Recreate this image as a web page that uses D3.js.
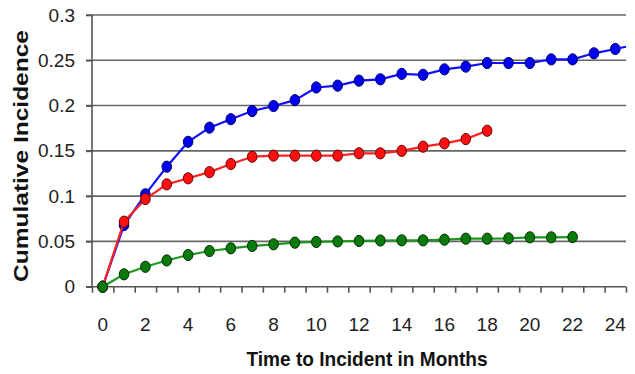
<!DOCTYPE html>
<html>
<head>
<meta charset="utf-8">
<script src="https://cdn.jsdelivr.net/npm/d3@7"></script>
<style>
  body { margin: 0; background: #fff; }
  svg { display: block; font-family: "Liberation Sans", Arial, sans-serif; }
</style>
</head>
<body>
<div id="chart"></div>
<script>
(function() {
// months 0..24
let months = d3.range(0, 25);
let xTickLabels = [0, 2, 4, 6, 8, 10, 12, 14, 16, 18, 20, 22, 24];
let yTickValues = [0, 0.05, 0.1, 0.15, 0.2, 0.25, 0.3];
let yTickLabels = ['0', '0.05', '0.1', '0.15', '0.2', '0.25', '0.3'];

let blueValues = [0, 0.068, 0.102, 0.1325, 0.160, 0.1756, 0.185, 0.194, 0.1995, 0.206, 0.220, 0.222,
  0.2275, 0.229, 0.235, 0.234, 0.240, 0.243, 0.247, 0.247, 0.247, 0.251, 0.251, 0.2577, 0.2625];
let redValues = [0, 0.0718, 0.0968, 0.113, 0.1197, 0.1265, 0.1355, 0.1435, 0.1447, 0.1447, 0.1447, 0.1447,
  0.1473, 0.1473, 0.150, 0.1546, 0.1583, 0.163, 0.1722];
let greenValues = [0, 0.0137, 0.022, 0.029, 0.035, 0.0394, 0.0424, 0.045, 0.0468, 0.0486, 0.0494, 0.050,
  0.0505, 0.051, 0.0512, 0.0512, 0.0519, 0.053, 0.053, 0.0534, 0.0545, 0.0545, 0.0548];

let width = 635, height = 374;
let plot = { left: 92, right: 626, top: 15, bottom: 286.7 };

let svg = d3.select('#chart').append('svg')
  .attr('width', width)
  .attr('height', height);

let x = d3.scaleLinear().domain([-0.5, 24.5]).range([plot.left, plot.right]);
let y = d3.scaleLinear().domain([0, 0.3]).range([plot.bottom, plot.top]);

// gridlines
svg.append('g').selectAll('line')
  .data(yTickValues.slice(1))
  .enter().append('line')
  .attr('x1', plot.left - 6).attr('x2', plot.right)
  .attr('y1', d => y(d)).attr('y2', d => y(d))
  .attr('stroke', '#666').attr('stroke-width', 1.6);

// y axis
let yAxis = d3.axisLeft(y).tickValues(yTickValues).tickSize(6)
  .tickFormat((d, i) => yTickLabels[i]);
let gy = svg.append('g').attr('transform', 'translate(' + plot.left + ',0)').call(yAxis);
gy.select('.domain').attr('stroke', '#555').attr('stroke-width', 1.6).attr('d', 'M0,' + plot.top + 'V' + plot.bottom);
gy.selectAll('.tick line').attr('stroke', '#555').attr('stroke-width', 1.6);
gy.selectAll('.tick text').attr('font-size', '19px').attr('fill', '#222').attr('x', -17)
  .attr('font-family', '"Liberation Sans", Arial, sans-serif');

// x axis (category boundaries as ticks)
let xAxis = d3.axisBottom(x).tickValues(d3.range(-0.5, 25, 1)).tickSize(6).tickFormat('');
let gx = svg.append('g').attr('transform', 'translate(0,' + plot.bottom + ')').call(xAxis);
gx.select('.domain').attr('stroke', '#555').attr('stroke-width', 1.6).attr('d', 'M' + (plot.left - 6) + ',0H' + plot.right);
gx.selectAll('.tick line').attr('stroke', '#555').attr('stroke-width', 1.6);

svg.append('g').selectAll('text')
  .data(xTickLabels)
  .enter().append('text')
  .attr('x', d => x(d))
  .attr('y', 331)
  .attr('text-anchor', 'middle')
  .attr('font-size', '19px')
  .attr('fill', '#222')
  .text(d => d);

// axis titles
svg.append('text')
  .attr('x', 367).attr('y', 366)
  .attr('text-anchor', 'middle')
  .attr('font-size', '21px').attr('font-weight', 'bold').attr('fill', '#111')
  .attr('textLength', 241).attr('lengthAdjust', 'spacingAndGlyphs')
  .text('Time to Incident in Months');

svg.append('text')
  .attr('transform', 'translate(28,156) rotate(-90)')
  .attr('text-anchor', 'middle')
  .attr('font-size', '20px').attr('font-weight', 'bold').attr('fill', '#111')
  .attr('textLength', 252).attr('lengthAdjust', 'spacingAndGlyphs')
  .text('Cumulative Incidence');

// series
let series = [
  { values: blueValues, fill: '#0000f0', stroke: '#00006a', line: '#1010ff' },
  { values: redValues, fill: '#ff1010', stroke: '#6a0000', line: '#ff2020' },
  { values: greenValues, fill: '#0a7a0a', stroke: '#003000', line: '#1a9a1a' }
];

let line = d3.line()
  .x((d, i) => x(months[i]))
  .y(d => y(d));

series.forEach(s => {
  let g = svg.append('g');
  g.append('path')
    .attr('d', line(s.values))
    .attr('fill', 'none')
    .attr('stroke', s.line)
    .attr('stroke-width', 2.2);
  g.selectAll('ellipse')
    .data(s.values)
    .enter().append('ellipse')
    .attr('cx', (d, i) => x(months[i]))
    .attr('cy', d => y(d))
    .attr('rx', 4.8).attr('ry', 5.6)
    .attr('fill', s.fill)
    .attr('stroke', s.stroke)
    .attr('stroke-width', 1);
});

// blue line continues past the last point to the plot edge
let bl = blueValues.length;
let slope = blueValues[bl - 1] - blueValues[bl - 2];
svg.append('line')
  .attr('x1', x(months[bl - 1])).attr('y1', y(blueValues[bl - 1]))
  .attr('x2', plot.right).attr('y2', y(blueValues[bl - 1] + slope * 0.5))
  .attr('stroke', '#1010ff').attr('stroke-width', 2.2);
})();
</script>
</body>
</html>
